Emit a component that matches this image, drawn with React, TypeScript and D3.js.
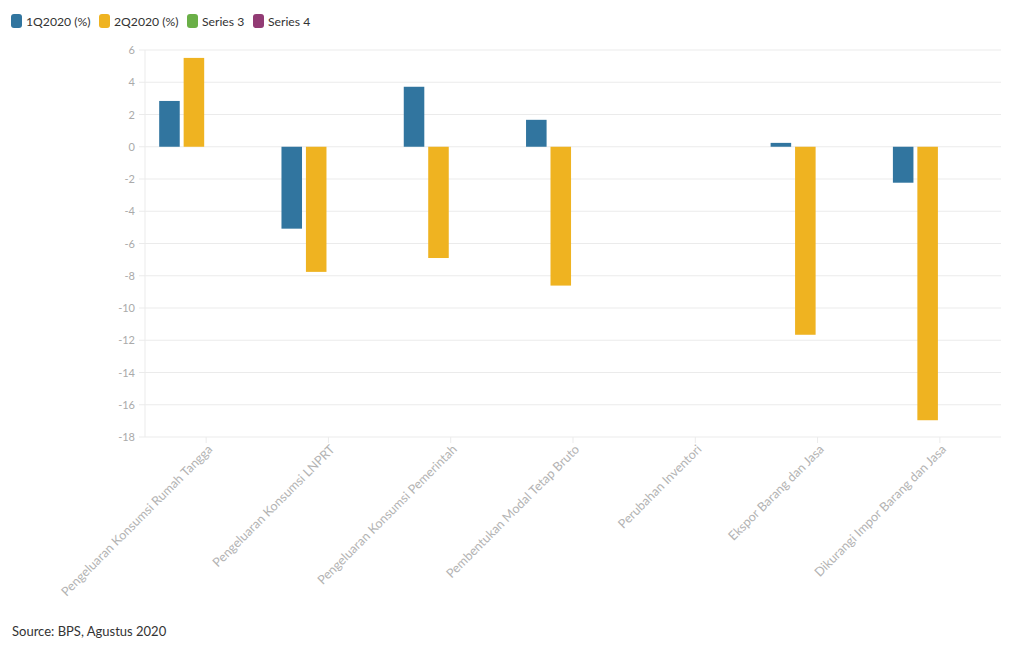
import React from "react";
import * as d3 from "d3";

const categories = [
  "Pengeluaran Konsumsi Rumah Tangga",
  "Pengeluaran Konsumsi LNPRT",
  "Pengeluaran Konsumsi Pemerintah",
  "Pembentukan Modal Tetap Bruto",
  "Perubahan Inventori",
  "Ekspor Barang dan Jasa",
  "Dikurangi Impor Barang dan Jasa",
];
const seriesNames = ["1Q2020 (%)", "2Q2020 (%)", "Series 3", "Series 4"];
const seriesColors = ["#31759f", "#efb321", "#6aaf47", "#923b74"];
const q1Values: (number | null)[] = [2.84, -5.08, 3.72, 1.67, null, 0.24, -2.23];
const q2Values: (number | null)[] = [5.51, -7.76, -6.9, -8.61, null, -11.66, -16.96];
const series3Values: (number | null)[] = [null, null, null, null, null, null, null];
const series4Values: (number | null)[] = [null, null, null, null, null, null, null];
const yTicks = [6, 4, 2, 0, -2, -4, -6, -8, -10, -12, -14, -16, -18];
const sourceText = "Source: BPS, Agustus 2020";

const allSeries = [q1Values, q2Values, series3Values, series4Values];

export default function App() {
  const W = 1020, H = 650;
  const left = 145, right = 1001, top = 50, bottom = 437;
  const x = d3.scaleBand<string>().domain(categories).range([left, right]).paddingInner(0).paddingOuter(0);
  const y = d3.scaleLinear().domain([-18, 6]).range([bottom, top]);
  const groupW = x.bandwidth() * 0.8;
  const sub = d3.scaleBand<number>().domain([0, 1, 2, 3]).range([0, groupW]).paddingInner(0.16).paddingOuter(0.08);
  const font = "Lato, 'Noto Sans', sans-serif";

  const legendX = [11, 99, 187, 253];

  return (
    <svg width={W} height={H} style={{ position: "absolute", left: 0, top: 0, background: "#fff" }}>
      {/* legend */}
      {seriesNames.map((n, i) => (
        <g key={n} transform={`translate(${legendX[i]},14)`}>
          <rect x={0} y={0} width={11} height={14} rx={3} fill={seriesColors[i]} />
          <text x={15} y={11.5} fontSize={12.2} fill="#333" fontFamily={font}>{n}</text>
        </g>
      ))}
      {/* gridlines */}
      {yTicks.map((t) => (
        <g key={t}>
          <line x1={left - 6} x2={right} y1={y(t)} y2={y(t)} stroke="#ebebeb" strokeWidth={1} />
          <text x={135} y={y(t) + 4} textAnchor="end" fontSize={11} fill="#aaa" fontFamily={font}>{t}</text>
        </g>
      ))}
      <line x1={left} x2={left} y1={top} y2={bottom} stroke="#ebebeb" />
      {/* x ticks and labels */}
      {categories.map((c) => {
        const cx = (x(c) as number) + x.bandwidth() / 2;
        return (
          <g key={c}>
            <line x1={cx} x2={cx} y1={bottom} y2={bottom + 6} stroke="#ebebeb" />
            <text
              transform={`translate(${cx + 4},${bottom + 10}) rotate(-45)`}
              textAnchor="end"
              fontSize={12.6}
              fill="#b3b3b3"
              fontFamily={font}
              dy="0.35em"
            >
              {c}
            </text>
          </g>
        );
      })}
      {/* bars */}
      {allSeries.map((vals, si) =>
        vals.map((v, ci) => {
          if (v === null) return null;
          const gx = (x(categories[ci]) as number) + (x.bandwidth() - groupW) / 2;
          const bx = gx + (sub(si) as number);
          const y0 = y(0), y1 = y(v);
          return (
            <rect
              key={`${si}-${ci}`}
              x={bx}
              y={Math.min(y0, y1)}
              width={sub.bandwidth()}
              height={Math.abs(y1 - y0)}
              fill={seriesColors[si]}
            />
          );
        })
      )}
      <text x={12} y={636} fontSize={13} fill="#333" fontFamily={font}>{sourceText}</text>
    </svg>
  );
}
